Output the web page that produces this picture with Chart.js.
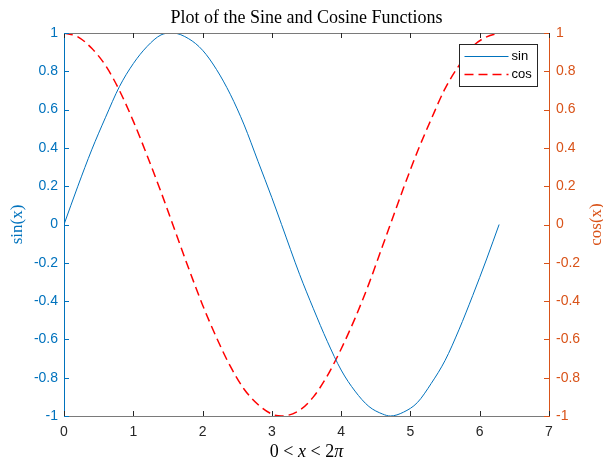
<!DOCTYPE html>
<html>
<head>
<meta charset="utf-8">
<script src="https://cdn.jsdelivr.net/npm/chart.js"></script>
<style>
  html, body { margin: 0; padding: 0; background: #fff; }
  #wrap { width: 603px; height: 459px; }
</style>
</head>
<body>
<div id="wrap"><canvas id="c" width="603" height="459"></canvas></div>
<script>
// values
var xVals = [0, 0.2, 0.4, 0.6, 0.8, 1.0, 1.2, 1.4, 1.57, 1.8, 2.0, 2.2, 2.4, 2.6, 2.8, 3.0, 3.14,
             3.4, 3.6, 3.8, 4.0, 4.2, 4.4, 4.6, 4.71, 4.9, 5.1, 5.3, 5.5, 5.7, 5.9, 6.1, 6.28];
var sinVals = [0, 0.20, 0.39, 0.56, 0.72, 0.84, 0.93, 0.99, 1.00, 0.97, 0.91, 0.81, 0.68, 0.52, 0.33, 0.14, 0,
               -0.26, -0.44, -0.61, -0.76, -0.87, -0.95, -0.99, -1.00, -0.98, -0.93, -0.83, -0.71, -0.55, -0.37, -0.18, 0];
var cosVals = [1.00, 0.98, 0.92, 0.83, 0.70, 0.54, 0.36, 0.17, 0, -0.23, -0.42, -0.59, -0.74, -0.86, -0.94, -0.99, -1.00,
               -0.97, -0.90, -0.79, -0.65, -0.49, -0.31, -0.11, 0, 0.19, 0.38, 0.55, 0.71, 0.83, 0.93, 0.98, 1.00];
var xTicks = [0, 1, 2, 3, 4, 5, 6, 7];
var yTicks = [-1, -0.8, -0.6, -0.4, -0.2, 0, 0.2, 0.4, 0.6, 0.8, 1];
var seriesNames = ['sin', 'cos'];

var BLUE = '#0072BD', ORANGE = '#D95319', RED = '#FF0000', AXIS = '#262626';
var SANS = '"Liberation Sans", Arial, sans-serif';
var SERIF = '"Liberation Serif", "Times New Roman", serif';

function pts(ys){
  return xVals.map(function(x, i){ return { x: x, y: ys[i] }; });
}

// ticks pointing inward, top border, legend and titles
var decor = {
  id: 'decor',
  afterDraw: function(chart){
    var ctx = chart.ctx, a = chart.chartArea;
    var sx = chart.scales.x, yl = chart.scales.y, yr = chart.scales.y1;
    ctx.save();
    ctx.lineWidth = 1;

    // top border
    ctx.strokeStyle = '#7a7a7a';
    ctx.beginPath();
    ctx.moveTo(a.left, Math.round(a.top) + 0.5);
    ctx.lineTo(a.right, Math.round(a.top) + 0.5);
    ctx.stroke();

    // x ticks, bottom and top
    ctx.strokeStyle = AXIS;
    xTicks.forEach(function(v){
      var px = Math.round(sx.getPixelForValue(v)) + 0.5;
      ctx.beginPath();
      ctx.moveTo(px, a.bottom); ctx.lineTo(px, a.bottom - 5);
      ctx.moveTo(px, a.top); ctx.lineTo(px, a.top + 5);
      ctx.stroke();
    });
    // left ticks
    ctx.strokeStyle = BLUE;
    yTicks.forEach(function(v){
      var py = Math.round(yl.getPixelForValue(v)) + 0.5;
      ctx.beginPath(); ctx.moveTo(a.left, py); ctx.lineTo(a.left + 5, py); ctx.stroke();
    });
    // right ticks
    ctx.strokeStyle = ORANGE;
    yTicks.forEach(function(v){
      var py = Math.round(yr.getPixelForValue(v)) + 0.5;
      ctx.beginPath(); ctx.moveTo(a.right, py); ctx.lineTo(a.right - 5, py); ctx.stroke();
    });

    // legend box
    var bx = Math.round(a.right) - 89.5, by = Math.round(a.top) + 11.5, bw = 78, bh = 42;
    ctx.fillStyle = '#fff';
    ctx.fillRect(bx, by, bw, bh);
    ctx.strokeStyle = AXIS;
    ctx.strokeRect(bx, by, bw, bh);
    ctx.font = '13px ' + SANS;
    ctx.textBaseline = 'middle';
    ctx.textAlign = 'left';
    chart.data.datasets.forEach(function(ds, i){
      var ly = by + 12 + i * 18;
      ctx.strokeStyle = ds.borderColor;
      ctx.lineWidth = ds.borderWidth;
      ctx.setLineDash(ds.borderDash || []);
      ctx.beginPath(); ctx.moveTo(bx + 5, ly); ctx.lineTo(bx + 49, ly); ctx.stroke();
      ctx.setLineDash([]);
      ctx.fillStyle = '#000';
      ctx.fillText(ds.label, bx + 52, ly);
    });

    // title
    ctx.fillStyle = '#000';
    ctx.textAlign = 'center';
    ctx.font = '18px ' + SERIF;
    ctx.fillText('Plot of the Sine and Cosine Functions', (a.left + a.right) / 2, 18);

    // x axis title: 0 < x < 2π
    var parts = [['0 < ', false], ['x', true], [' < 2', false], ['\u03C0', true]];
    var w = 0;
    parts.forEach(function(p){
      ctx.font = (p[1] ? 'italic ' : '') + '18px ' + SERIF;
      w += ctx.measureText(p[0]).width;
    });
    var tx = (a.left + a.right) / 2 - w / 2;
    ctx.textAlign = 'left';
    parts.forEach(function(p){
      ctx.font = (p[1] ? 'italic ' : '') + '18px ' + SERIF;
      ctx.fillText(p[0], tx, 452);
      tx += ctx.measureText(p[0]).width;
    });

    // y axis titles, both reading bottom to top
    ctx.textAlign = 'center';
    ctx.font = '17px ' + SERIF;
    var cy = (a.top + a.bottom) / 2;
    ctx.save();
    ctx.translate(18, cy); ctx.rotate(-Math.PI / 2);
    ctx.fillStyle = BLUE; ctx.fillText('sin(x)', 0, 0);
    ctx.restore();
    ctx.save();
    ctx.translate(597, cy); ctx.rotate(-Math.PI / 2);
    ctx.fillStyle = ORANGE; ctx.fillText('cos(x)', 0, 0);
    ctx.restore();

    ctx.restore();
  }
};

function fmt(v){ return String(Math.round(v * 10) / 10); }

new Chart(document.getElementById('c'), {
  type: 'line',
  data: {
    datasets: [
      { label: seriesNames[0], data: pts(sinVals), yAxisID: 'y', borderColor: BLUE, borderWidth: 1,
        pointRadius: 0, fill: false, cubicInterpolationMode: 'monotone' },
      { label: seriesNames[1], data: pts(cosVals), yAxisID: 'y1', borderColor: RED, borderWidth: 1.5,
        borderDash: [9, 5], pointRadius: 0, fill: false, cubicInterpolationMode: 'monotone' }
    ]
  },
  options: {
    responsive: false,
    animation: false,
    events: [],
    layout: { padding: { top: 33, left: 0, right: 0, bottom: 0 } },
    plugins: { legend: { display: false }, title: { display: false }, tooltip: { enabled: false } },
    scales: {
      x: {
        type: 'linear', min: 0, max: 7,
        afterFit: function(s){ s.height = 43; },
        afterBuildTicks: function(s){ s.ticks = xTicks.map(function(v){ return { value: v }; }); },
        grid: { drawOnChartArea: false, drawTicks: false },
        border: { color: '#7a7a7a', width: 1 },
        ticks: { padding: 8, color: AXIS, font: { family: SANS, size: 14 }, callback: fmt }
      },
      y: {
        type: 'linear', position: 'left', min: -1, max: 1,
        afterFit: function(s){ s.width = 64; },
        afterBuildTicks: function(s){ s.ticks = yTicks.map(function(v){ return { value: v }; }); },
        grid: { drawOnChartArea: false, drawTicks: false },
        border: { color: BLUE, width: 1 },
        ticks: { padding: 6, color: BLUE, font: { family: SANS, size: 14 }, callback: fmt }
      },
      y1: {
        type: 'linear', position: 'right', min: -1, max: 1,
        afterFit: function(s){ s.width = 54; },
        afterBuildTicks: function(s){ s.ticks = yTicks.map(function(v){ return { value: v }; }); },
        grid: { drawOnChartArea: false, drawTicks: false },
        border: { color: ORANGE, width: 1 },
        ticks: { padding: 7, color: ORANGE, font: { family: SANS, size: 14 }, callback: fmt }
      }
    }
  },
  plugins: [decor]
});
</script>
</body>
</html>
